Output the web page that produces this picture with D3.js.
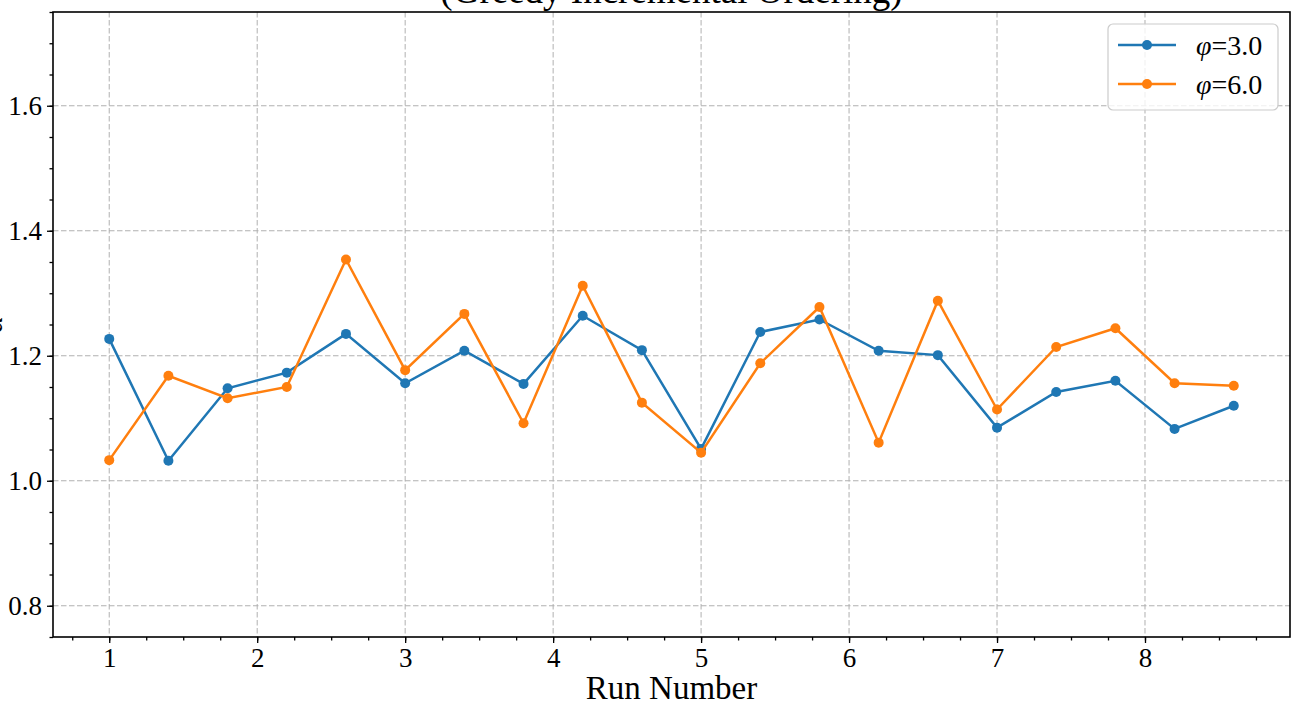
<!DOCTYPE html>
<html>
<head>
<meta charset="utf-8">
<script src="https://cdn.jsdelivr.net/npm/d3@7"></script>
<style>
  body { margin: 0; background: #fff; }
  svg { display: block; }
</style>
</head>
<body>
<script>
const runs = [1.0, 1.4, 1.8, 2.2, 2.6, 3.0, 3.4, 3.8, 4.2, 4.6, 5.0, 5.4, 5.8, 6.2, 6.6, 7.0, 7.4, 7.8, 8.2, 8.6];
const phi3 = [1.227, 1.032, 1.148, 1.173, 1.235, 1.156, 1.208, 1.155, 1.264, 1.209, 1.051, 1.238, 1.258, 1.208, 1.201, 1.085, 1.142, 1.160, 1.083, 1.120];
const phi6 = [1.033, 1.168, 1.132, 1.150, 1.354, 1.177, 1.267, 1.092, 1.312, 1.125, 1.045, 1.188, 1.278, 1.061, 1.288, 1.114, 1.214, 1.244, 1.156, 1.152];
const seriesValues = ["3.0", "6.0"];
const colors = ["#1f77b4", "#ff7f0e"];
const xTicks = [1, 2, 3, 4, 5, 6, 7, 8];
const yTicks = [0.8, 1.0, 1.2, 1.4, 1.6];

const width = 1299, height = 705;
const margin = {top: 12, right: 9, bottom: 68, left: 53};
const serif = "'Liberation Serif', 'DejaVu Serif', serif";

const x = d3.scaleLinear().domain([0.62, 8.98]).range([margin.left, width - margin.right]);
const y = d3.scaleLinear().domain([0.75, 1.75]).range([height - margin.bottom, margin.top]);

const svg = d3.select("body").append("svg")
    .attr("width", width)
    .attr("height", height)
    .style("font-family", serif);

// grid
const grid = svg.append("g")
    .attr("stroke", "#b0b0b0")
    .attr("stroke-width", 1)
    .attr("stroke-dasharray", "5.5,2.5");

grid.selectAll("line.gx")
  .data(xTicks)
  .enter().append("line")
    .attr("x1", d => x(d)).attr("x2", d => x(d))
    .attr("y1", margin.top).attr("y2", height - margin.bottom);

grid.selectAll("line.gy")
  .data(yTicks)
  .enter().append("line")
    .attr("y1", d => y(d)).attr("y2", d => y(d))
    .attr("x1", margin.left).attr("x2", width - margin.right);

// axes
const xAxis = svg.append("g")
    .attr("transform", `translate(0,${height - margin.bottom})`)
    .call(d3.axisBottom(x).tickValues(xTicks).tickFormat(d3.format("d")).tickSize(6).tickPadding(5));

svg.append("g")
    .attr("transform", `translate(0,${height - margin.bottom})`)
    .call(d3.axisBottom(x).tickValues(d3.range(0.75, 8.98, 0.25)).tickFormat("").tickSize(3.5));

const yAxis = svg.append("g")
    .attr("transform", `translate(${margin.left},0)`)
    .call(d3.axisLeft(y).tickValues(yTicks).tickFormat(d3.format(".1f")).tickSize(6).tickPadding(5));

svg.append("g")
    .attr("transform", `translate(${margin.left},0)`)
    .call(d3.axisLeft(y).tickValues(d3.range(0.75, 1.751, 0.05)).tickFormat("").tickSize(3.5));

svg.selectAll(".tick line").attr("stroke", "#000").attr("stroke-width", 1.3);
[xAxis, yAxis].forEach(a => a.selectAll("text")
    .attr("fill", "#000")
    .style("font-family", serif)
    .style("font-size", "27px"));
svg.selectAll(".domain").remove();

// frame
svg.append("rect")
    .attr("x", margin.left)
    .attr("y", margin.top)
    .attr("width", width - margin.left - margin.right)
    .attr("height", height - margin.top - margin.bottom)
    .attr("fill", "none")
    .attr("stroke", "#000")
    .attr("stroke-width", 1.6);

// lines
const series = [phi3, phi6];
const line = d3.line().x((d, i) => x(runs[i])).y(d => y(d));

series.forEach((vals, k) => {
  const g = svg.append("g");
  g.append("path")
      .attr("d", line(vals))
      .attr("fill", "none")
      .attr("stroke", colors[k])
      .attr("stroke-width", 2.5);
  g.selectAll("circle")
    .data(vals)
    .enter().append("circle")
      .attr("cx", (d, i) => x(runs[i]))
      .attr("cy", d => y(d))
      .attr("r", 5)
      .attr("fill", colors[k]);
});

// title (cut off at the top, as in the original)
svg.append("text")
    .attr("x", (margin.left + width - margin.right) / 2)
    .attr("y", 3)
    .attr("text-anchor", "middle")
    .style("font-size", "37px")
    .text("(Greedy Incremental Ordering)");

// y label (almost entirely off screen)
svg.append("text")
    .attr("transform", `translate(2,${(margin.top + height - margin.bottom) / 2}) rotate(-90)`)
    .attr("text-anchor", "middle")
    .style("font-size", "32px")
    .style("font-style", "italic")
    .text("α");

// x label
svg.append("text")
    .attr("x", (margin.left + width - margin.right) / 2)
    .attr("y", 699)
    .attr("text-anchor", "middle")
    .style("font-size", "33px")
    .text("Run Number");

// legend
const legend = svg.append("g").attr("transform", "translate(1108,24)");
legend.append("rect")
    .attr("width", 170)
    .attr("height", 86)
    .attr("rx", 5)
    .attr("fill", "#fff")
    .attr("fill-opacity", 0.8)
    .attr("stroke", "#cccccc")
    .attr("stroke-width", 1.2);

const item = legend.selectAll("g.item")
  .data(seriesValues)
  .enter().append("g")
    .attr("transform", (d, i) => `translate(0,${21 + i * 39})`);

item.append("line")
    .attr("x1", 10).attr("x2", 68)
    .attr("stroke", (d, i) => colors[i])
    .attr("stroke-width", 2.5);

item.append("circle")
    .attr("cx", 39)
    .attr("r", 5)
    .attr("fill", (d, i) => colors[i]);

const label = item.append("text")
    .attr("x", 88)
    .attr("dy", "0.35em")
    .style("font-size", "28px");
label.append("tspan").style("font-style", "italic").text("φ");
label.append("tspan").text(d => "=" + d);
</script>
</body>
</html>
